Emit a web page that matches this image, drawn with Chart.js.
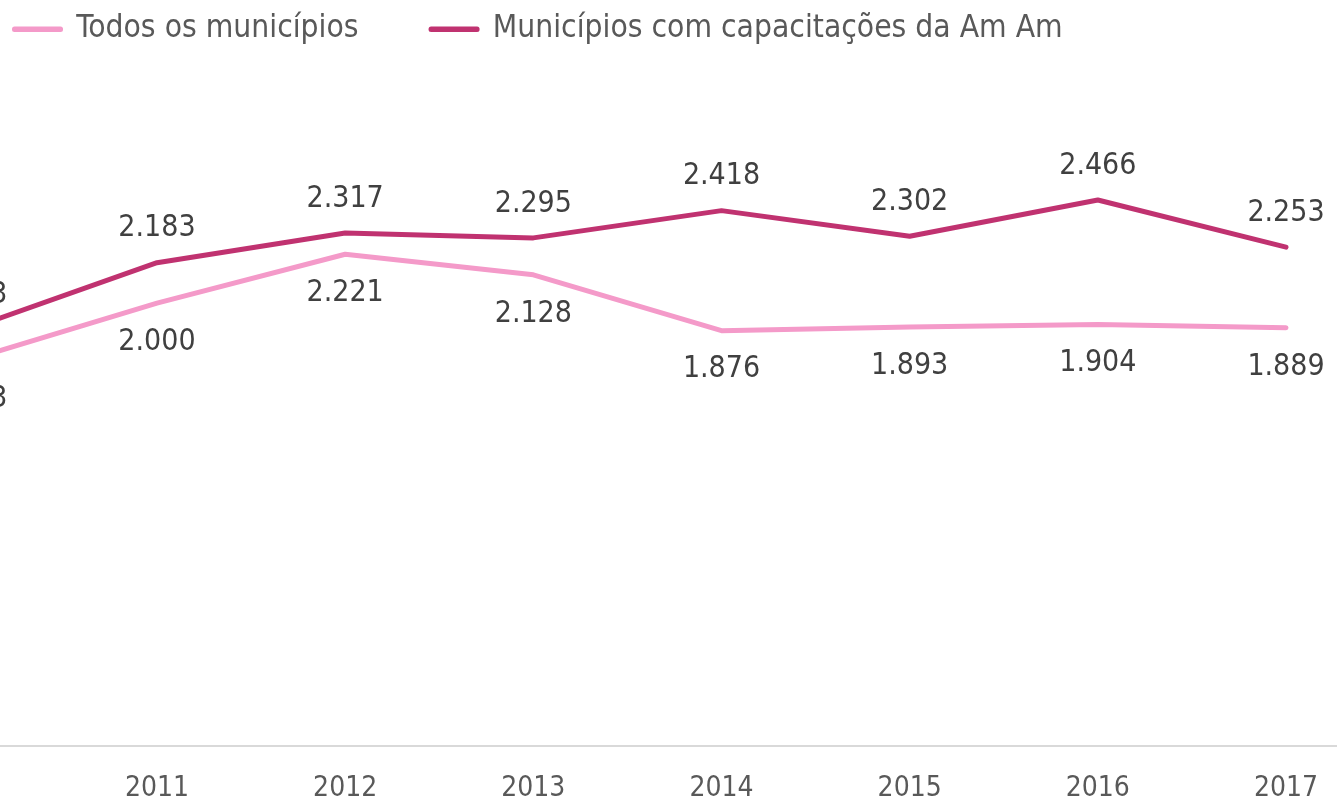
<!DOCTYPE html>
<html>
<head>
<meta charset="utf-8">
<script src="https://cdn.jsdelivr.net/npm/chart.js@4"></script>
<style>
    html, body { margin: 0; padding: 0; background: #fff; overflow: hidden; }
    #wrap { width: 1337px; height: 801px; }
</style>
</head>
<body>
<div id="wrap"><canvas id="chart"></canvas></div>
<script>
const years = [2010, 2011, 2012, 2013, 2014, 2015, 2016, 2017];
const todosMunicipios = [1743, 2000, 2221, 2128, 1876, 1893, 1904, 1889];
const municipiosAmAm = [1883, 2183, 2317, 2295, 2418, 2302, 2466, 2253];
const seriesNames = ['Todos os municípios', 'Municípios com capacitações da Am Am'];

const FONT = '"DejaVu Sans Condensed", "DejaVu Sans", sans-serif';
const LIGHT = '#f49ac9';
const DARK = '#c03270';

const toPoints = (vals) => years.map((yr, i) => ({ x: yr, y: vals[i] }));

// 1.876 style labels, above the dark line and below the light one
const valueLabels = {
    id: 'valueLabels',
    afterDatasetsDraw(chart) {
        const ctx = chart.ctx;
        ctx.save();
        ctx.font = '30px ' + FONT;
        ctx.fillStyle = '#404040';
        ctx.textAlign = 'center';
        ctx.textBaseline = 'middle';
        chart.data.datasets.forEach((ds, di) => {
            const meta = chart.getDatasetMeta(di);
            const dy = di === 0 ? 39 : -34;
            meta.data.forEach((el, i) => {
                const txt = (ds.data[i].y / 1000).toFixed(3);
                ctx.fillText(txt, el.x, el.y + dy);
            });
        });
        ctx.restore();
    }
};

const ctx = document.getElementById('chart');

new Chart(ctx, {
    type: 'line',
    data: {
        datasets: [{
            label: seriesNames[0],
            data: toPoints(todosMunicipios),
            borderColor: LIGHT,
            backgroundColor: LIGHT
        }, {
            label: seriesNames[1],
            data: toPoints(municipiosAmAm),
            borderColor: DARK,
            backgroundColor: DARK
        }]
    },
    options: {
        responsive: true,
        maintainAspectRatio: false,
        animation: false,
        clip: false,
        elements: {
            line: { borderWidth: 5, tension: 0, borderCapStyle: 'round', borderJoinStyle: 'round' },
            point: { radius: 0, hoverRadius: 0 }
        },
        layout: {
            autoPadding: false,
            // negative padding only moves the legend; the plot area stays at 0
            padding: { top: -59, left: -58, right: 0, bottom: 0 }
        },
        scales: {
            x: {
                type: 'linear',
                // picture is cropped, 2010 lies just left of the edge
                min: 2010.1657,
                max: 2017.271,
                grid: { display: false, drawTicks: false },
                border: { display: true, color: '#d9d9d9', width: 2 },
                ticks: {
                    stepSize: 1,
                    includeBounds: false,
                    autoSkip: false,
                    maxRotation: 0,
                    padding: 26,
                    color: '#595959',
                    font: { family: FONT, size: 28 },
                    callback: (v) => String(v)
                },
                afterFit: (scale) => {
                    scale.height = 55;
                    scale.paddingLeft = 0;
                    scale.paddingRight = 0;
                }
            },
            y: {
                display: false,
                min: 0,
                max: 3121
            }
        },
        plugins: {
            legend: {
                position: 'top',
                align: 'start',
                labels: {
                    boxWidth: 46,
                    boxHeight: 0.5,
                    padding: 72.5,
                    color: '#595959',
                    font: { family: FONT, size: 31.5 }
                }
            },
            tooltip: { enabled: false }
        }
    },
    plugins: [valueLabels]
});
</script>
</body>
</html>
